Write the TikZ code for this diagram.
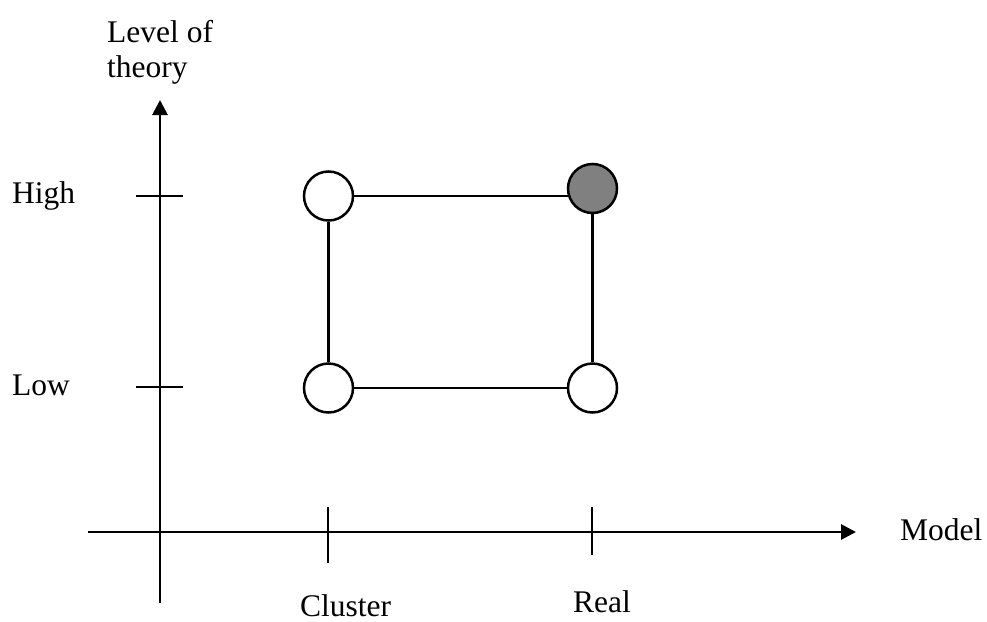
\documentclass[tikz,border=0pt]{standalone}
\usepackage{fontspec}
\setmainfont{Liberation Serif}
\usetikzlibrary{arrows.meta,backgrounds}
\begin{document}
\begin{tikzpicture}[x=1pt,y=-1pt,
  ln/.style={line width=2.8pt},
  lbl/.style={anchor=base west,inner sep=0pt,font=\fontsize{31.5}{35}\selectfont},
  pt/.style={circle,draw,line width=2.5pt,minimum size=49pt,inner sep=0pt,fill=white},
  axarrow/.style={ln,-{Triangle[length=15pt,width=15pt]}}]
\useasboundingbox (0,0) rectangle (987,621);
% axes
\coordinate (yb) at (160,603);
\coordinate (yt) at (160,100);
\coordinate (xl) at (88,532);
\coordinate (xr) at (856,532);
\draw[axarrow] (yb) -- (yt);
\draw[axarrow] (xl) -- (xr);
% ticks
\draw[ln] (136,196) -- (183,196);
\draw[ln] (136,387) -- (183,387);
\draw[ln] (328,507) -- (328,563);
\draw[ln] (592,507) -- (592,555);
% labels
\node[lbl] (lv1) at (107,42) {Level of};
\node[lbl] (lv2) at (107,77) {theory};
\node[lbl] (hi) at (12,203) {High};
\node[lbl] (lo) at (12,395) {Low};
\node[lbl] (mo) at (900,540) {Model};
\node[lbl] (cl) at (300,616) {Cluster};
\node[lbl] (re) at (573,612) {Real};
% points
\node[pt] (cH) at (328.5,196) {};
\node[pt,fill={rgb,255:red,128;green,128;blue,128}] (rH) at (592.5,188.5) {};
\node[pt] (cL) at (328.5,388) {};
\node[pt] (rL) at (592.5,388) {};
\begin{scope}[on background layer]
\draw[ln] (cH) -- (cH -| rH);
\draw[ln] (cH) -- (cL);
\draw[ln] (cL) -- (rL);
\draw[ln] (rH) -- (rL);
\end{scope}
\end{tikzpicture}
\end{document}
